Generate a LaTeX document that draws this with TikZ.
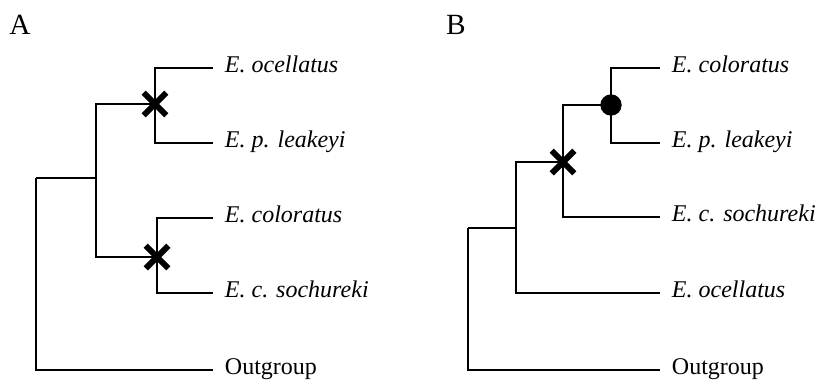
\documentclass[tikz,border=0pt]{standalone}
\usepackage{fontspec}
\setmainfont{Liberation Serif}
\usetikzlibrary{shapes.misc}

\begin{document}
\begin{tikzpicture}[x=0.75pt,y=-0.75pt,line width=1.9pt,
    tip/.style={anchor=west,inner xsep=8pt,inner ysep=0pt,text height=0.66em,text depth=0pt,font=\fontsize{18}{20}\selectfont},
    sp/.style={tip,font=\fontsize{18}{20}\selectfont\itshape},
    panel/.style={font=\fontsize{22}{24}\selectfont},
    gain/.style={cross out,draw,line width=4.5pt,minimum size=12.5pt,inner sep=0pt},
    loss/.style={circle,fill,minimum size=16pt,inner sep=0pt}]
                \useasboundingbox (0,0) rectangle (821,383);

                % panel A
                \node[panel] (lblA) at (20,25) {A};
                \coordinate (A0) at (36,178);
                \coordinate (A1) at (96,178);
                \coordinate (A2) at (155,104);
                \coordinate (A3) at (157,257);

                \node[sp] (ocA) at (213,68) {E. ocellatus};
                \node[sp] (leA) at (213,143) {E. p. leakeyi};
                \node[sp] (coA) at (213,218) {E. coloratus};
                \node[sp] (soA) at (213,293) {E. c. sochureki};
                \node[tip] (ogA) at (213,370) {Outgroup};

                \draw (A0) -- (A1);
                \draw (A0) |- (ogA.west);
                \draw (A2) -| (A1) |- (A3);
                \draw (ocA.west) -| (A2) |- (leA.west);
                \draw (coA.west) -| (A3) |- (soA.west);
                \node[gain] at (A2) {};
                \node[gain] at (A3) {};

                % panel B
                \node[panel] (lblB) at (456,25) {B};
                \coordinate (B0) at (468,228);
                \coordinate (B1) at (516,228);
                \coordinate (B2) at (563,162);
                \coordinate (B3) at (611,105);

                \node[sp] (coB) at (660,68) {E. coloratus};
                \node[sp] (leB) at (660,143) {E. p. leakeyi};
                \node[sp] (soB) at (660,217) {E. c. sochureki};
                \node[sp] (ocB) at (660,293) {E. ocellatus};
                \node[tip] (ogB) at (660,370) {Outgroup};

                \draw (B0) -- (B1);
                \draw (B0) |- (ogB.west);
                \draw (B2) -| (B1) |- (ocB.west);
                \draw (B3) -| (B2) |- (soB.west);
                \draw (coB.west) -| (B3) |- (leB.west);
                \node[gain] at (B2) {};
                \node[loss] at (B3) {};
\end{tikzpicture}
\end{document}
